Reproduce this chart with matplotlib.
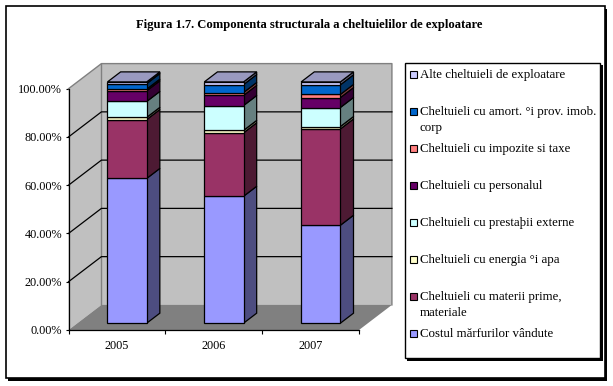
import matplotlib
matplotlib.use('Agg')
import numpy as np
import matplotlib.pyplot as plt
from matplotlib.patches import Rectangle
from matplotlib.colors import to_rgb

years = ['2005', '2006', '2007']
title = 'Figura 1.7. Componenta structurala a cheltuielilor de exploatare'

# stack order, bottom to top
costul = [60.0, 52.6, 40.6]
materii = [24.4, 26.3, 39.9]
energia = [0.9, 1.0, 1.0]
prestatii = [6.6, 10.3, 7.9]
personal = [4.4, 4.2, 4.1]
impozite = [0.7, 1.2, 1.3]
amort = [2.3, 3.3, 4.0]
alte = [0.7, 1.1, 1.2]
series = [costul, materii, energia, prestatii, personal, impozite, amort, alte]
colors = ['#9999FF', '#993366', '#FFFFCC', '#CCFFFF', '#660066', '#FF8080', '#0066CC', '#CCCCFF']

# legend, top to bottom
legend_labels = ['Alte cheltuieli de exploatare', 'Cheltuieli cu amort. °i prov. imob.\ncorp',
                 'Cheltuieli cu impozite si taxe', 'Cheltuieli cu personalul',
                 'Cheltuieli cu prestaþii externe', 'Cheltuieli cu energia °i apa',
                 'Cheltuieli cu materii prime,\nmateriale', 'Costul mărfurilor vândute']
legend_colors = colors[::-1]

plt.rcParams['font.family'] = ['Liberation Serif', 'DejaVu Serif']
fig = plt.figure(figsize=(6.13, 3.86), dpi=100)

# background layer in pixels: frame, shadows, title, legend
bg = fig.add_axes([0, 0, 1, 1], zorder=0)
bg.set_xlim(0, 613)
bg.set_ylim(386, 0)
bg.axis('off')
bg.add_patch(Rectangle((8, 9), 599, 372, fc='black', ec='none'))
bg.add_patch(Rectangle((5.5, 5.5), 599, 372.5, fc='white', ec='black', lw=1.2))
bg.text(309, 25, title, ha='center', va='center', fontsize=9.05, fontweight='bold')
bg.add_patch(Rectangle((407, 65), 196, 296, fc='black', ec='none'))
bg.add_patch(Rectangle((404.5, 62.5), 195.5, 295.5, fc='white', ec='black', lw=1.0))
legend_y = [74, 111, 148, 185, 222, 259, 296, 333]
for y, lab, c in zip(legend_y, legend_labels, legend_colors):
    bg.add_patch(Rectangle((410, y - 3.5), 7, 7, fc=c, ec='black', lw=0.8))
    first = lab.split('\n')[0]
    bg.text(420, y + 0.7, first, ha='left', va='center', fontsize=9.25)
    if '\n' in lab:
        bg.text(420, y + 16.7, lab.split('\n')[1], ha='left', va='center', fontsize=9.25)

# chart layer, axes is the front plane of the 3D box
ax = fig.add_axes([68.5 / 613, (386 - 330) / 386, 290.5 / 613, 241.3 / 386], zorder=1)
ax.patch.set_visible(False)
ax.set_xlim(0, 3)
ax.set_ylim(0, 100)
for s in ['top', 'right']:
    ax.spines[s].set_visible(False)
for s in ['left', 'bottom']:
    ax.spines[s].set_linewidth(0.9)

wall_dx = 0.34
wall_dy = 10.4

# walls and floor
ax.fill([0, wall_dx, wall_dx, 0], [0, wall_dy, 100 + wall_dy, 100], color='#C0C0C0', lw=0, clip_on=False, zorder=1)
ax.fill([wall_dx, 3 + wall_dx, 3 + wall_dx, wall_dx], [wall_dy, wall_dy, 100 + wall_dy, 100 + wall_dy],
        color='#C0C0C0', lw=0, clip_on=False, zorder=1)
ax.fill([0, 3, 3 + wall_dx, wall_dx], [0, 0, wall_dy, wall_dy], color='#808080', lw=0, clip_on=False, zorder=1)

# outline of the walls
ax.plot([0, wall_dx, 3 + wall_dx, 3 + wall_dx], [100, 100 + wall_dy, 100 + wall_dy, wall_dy],
        color='#808080', lw=1, clip_on=False, zorder=2)
ax.plot([wall_dx, wall_dx], [wall_dy, 100 + wall_dy], color='#808080', lw=1, clip_on=False, zorder=2)

# gridlines
for v in [20, 40, 60, 80]:
    ax.plot([0, wall_dx, 3 + wall_dx], [v, v + wall_dy, v + wall_dy], color='black', lw=0.9, clip_on=False, zorder=2)

# bars
bar_w = 0.405
front = 0.27
depth = 0.4
xpos = np.arange(3) + 0.513 + front * wall_dx
base = front * wall_dy
side_dx = depth * wall_dx
side_dy = depth * wall_dy

bottom = np.full(3, base)
for vals, c in zip(series, colors):
    vals = np.array(vals)
    rgb = np.array(to_rgb(c))
    ax.bar(xpos, vals, bar_w, bottom=bottom, color=c, edgecolor='black', lw=0.9, clip_on=False, zorder=4)
    for x, b, v in zip(xpos + bar_w / 2, bottom, vals):
        ax.fill([x, x + side_dx, x + side_dx, x], [b, b + side_dy, b + v + side_dy, b + v],
                facecolor=rgb * 0.5, edgecolor='black', lw=0.9, clip_on=False, zorder=3)
    bottom = bottom + vals

top_rgb = np.array(to_rgb(colors[-1])) * 0.75
for x, t in zip(xpos, bottom):
    l = x - bar_w / 2
    r = x + bar_w / 2
    ax.fill([l, r, r + side_dx, l + side_dx], [t, t, t + side_dy, t + side_dy],
            facecolor=top_rgb, edgecolor='black', lw=0.9, clip_on=False, zorder=3)

ax.set_yticks([0, 20, 40, 60, 80, 100])
ax.set_yticklabels(['%.2f%%' % v for v in [0, 20, 40, 60, 80, 100]])
ax.set_xticks([0.5, 1.5, 2.5])
ax.set_xticklabels(years)
ax.set_xticks([0, 1, 2, 3], minor=True)
ax.tick_params(axis='x', which='major', length=0, labelsize=8.8, pad=7.5)
ax.tick_params(axis='x', which='minor', length=3, width=0.8)
ax.tick_params(axis='y', length=2.5, width=0.8, labelsize=8.8, pad=2)

fig.savefig('out.png', dpi=100)
